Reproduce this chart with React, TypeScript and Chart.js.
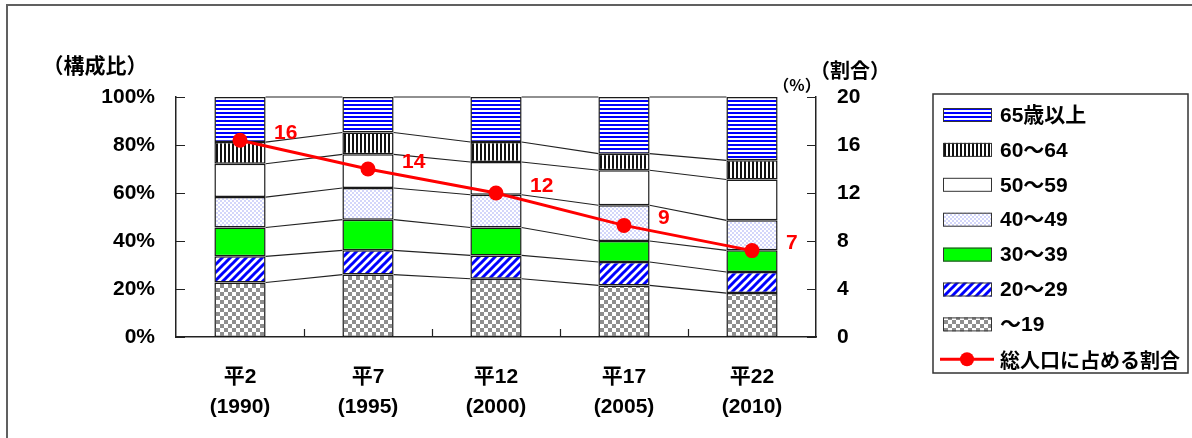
import React, { useEffect, useRef } from 'react';
import { Chart, registerables } from 'chart.js';

Chart.register(...registerables);

// ---- data ----
const categories: string[][] = [
  ['平2', '(1990)'],
  ['平7', '(1995)'],
  ['平12', '(2000)'],
  ['平17', '(2005)'],
  ['平22', '(2010)'],
];
const seriesLabels = ['～19', '20～29', '30～39', '40～49', '50～59', '60～64', '65歳以上'];
const under19 = [22.7, 26.0, 24.3, 21.5, 18.3];
const age20to29 = [10.9, 10.1, 9.7, 9.75, 8.8];
const age30to39 = [12.0, 12.8, 11.6, 8.75, 9.0];
const age40to49 = [12.7, 13.2, 13.7, 14.9, 12.5];
const age50to59 = [13.9, 14.0, 13.6, 14.6, 17.0];
const age60to64 = [9.0, 9.1, 8.35, 6.9, 8.0];
const age65plus = [18.8, 14.8, 18.75, 23.6, 26.4];
const shareOfTotal = [16.4, 14.0, 12.0, 9.3, 7.2];
const shareLabel = '総人口に占める割合';
const leftTickValues = [0, 20, 40, 60, 80, 100];
const rightTickValues = [0, 4, 8, 12, 16, 20];

const FONT = "'Liberation Sans', 'Noto Sans CJK JP', sans-serif";
const CJK = "'Noto Sans CJK JP', 'Liberation Sans', sans-serif";

function tile(w: number, h: number, draw: (g: CanvasRenderingContext2D) => void): CanvasPattern | string {
  const c = document.createElement('canvas');
  c.width = w;
  c.height = h;
  const g = c.getContext('2d')!;
  g.fillStyle = '#ffffff';
  g.fillRect(0, 0, w, h);
  draw(g);
  return g.createPattern(c, 'repeat') || '#fff';
}

function makePatterns() {
  const grayChecker = tile(8, 8, (g) => {
    g.fillStyle = '#8e8e8e';
    g.fillRect(0, 0, 4, 4);
    g.fillRect(4, 4, 4, 4);
  });
  const diag = tile(8, 8, (g) => {
    g.strokeStyle = '#0000ff';
    g.lineWidth = 3;
    g.beginPath();
    g.moveTo(-2, 10); g.lineTo(10, -2);
    g.moveTo(-2, 2); g.lineTo(2, -2);
    g.moveTo(6, 10); g.lineTo(10, 6);
    g.stroke();
  });
  const lavender = tile(4, 4, (g) => {
    g.fillStyle = '#d3d6fa';
    g.fillRect(0, 0, 2, 2);
    g.fillRect(2, 2, 2, 2);
  });
  const vert = tile(4, 4, (g) => {
    g.fillStyle = '#111111';
    g.fillRect(0, 0, 2, 4);
  });
  const horiz = tile(4, 4, (g) => {
    g.fillStyle = '#0000ff';
    g.fillRect(0, 0, 4, 2);
  });
  return [grayChecker, diag, '#00ff00', lavender, '#ffffff', vert, horiz];
}

const decorPlugin = {
  id: 'decor',
  beforeDatasetsDraw(chart: any) {
    const ctx = chart.ctx as CanvasRenderingContext2D;
    ctx.save();
    ctx.strokeStyle = '#222';
    ctx.lineWidth = 1.1;
    chart.data.datasets.forEach((ds: any, di: number) => {
      if (ds.type !== 'bar') return;
      const els = chart.getDatasetMeta(di).data;
      for (let j = 0; j < els.length - 1; j++) {
        const a = els[j].getProps(['x', 'y', 'width'], true);
        const b = els[j + 1].getProps(['x', 'y', 'width'], true);
        ctx.beginPath();
        ctx.moveTo(a.x + a.width / 2, a.y);
        ctx.lineTo(b.x - b.width / 2, b.y);
        ctx.stroke();
      }
    });
    ctx.restore();
  },
  afterDraw(chart: any) {
    const ctx = chart.ctx as CanvasRenderingContext2D;
    const area = chart.chartArea;
    const xs = chart.scales.x;
    const ys = chart.scales.y;
    const y1 = chart.scales.y1;
    ctx.save();

    // outer frame (left and top)
    ctx.strokeStyle = '#606060';
    ctx.lineWidth = 2;
    ctx.beginPath();
    ctx.moveTo(7, 438);
    ctx.lineTo(7, 5);
    ctx.lineTo(1192, 5);
    ctx.stroke();

    // inner tick marks
    ctx.strokeStyle = '#222';
    ctx.lineWidth = 1.2;
    ctx.beginPath();
    leftTickValues.forEach((v) => {
      const py = Math.round(ys.getPixelForValue(v)) + 0.5;
      ctx.moveTo(area.left, py);
      ctx.lineTo(area.left + 9, py);
    });
    rightTickValues.forEach((v) => {
      const py = Math.round(y1.getPixelForValue(v)) + 0.5;
      ctx.moveTo(area.right, py);
      ctx.lineTo(area.right - 9, py);
    });
    for (let i = 0; i < categories.length - 1; i++) {
      const px = Math.round((xs.getPixelForValue(i) + xs.getPixelForValue(i + 1)) / 2) + 0.5;
      ctx.moveTo(px, area.bottom);
      ctx.lineTo(px, area.bottom - 8);
    }
    ctx.stroke();

    // axis titles
    ctx.fillStyle = '#000';
    ctx.textAlign = 'center';
    ctx.textBaseline = 'middle';
    ctx.font = `bold 21px ${CJK}`;
    ctx.fillText('（構成比）', 95, 65);
    ctx.font = `bold 20px ${CJK}`;
    ctx.fillText('（割合）', 850, 70);
    ctx.font = `bold 16px ${CJK}`;
    ctx.fillText('（%）', 797, 85);

    // line data labels
    const lineIdx = chart.data.datasets.findIndex((d: any) => d.type === 'line');
    if (lineIdx >= 0) {
      const pts = chart.getDatasetMeta(lineIdx).data;
      ctx.fillStyle = '#ff0000';
      ctx.font = `bold 21px ${FONT}`;
      ctx.textAlign = 'left';
      ctx.textBaseline = 'middle';
      pts.forEach((p: any, i: number) => {
        const v = chart.data.datasets[lineIdx].data[i];
        ctx.fillText(String(Math.round(v)), p.x + 34, p.y - 7);
      });
    }

    // legend
    const lx = 933, ly = 94, lw = 255, lh = 279;
    ctx.fillStyle = '#fff';
    ctx.fillRect(lx, ly, lw, lh);
    ctx.strokeStyle = '#333';
    ctx.lineWidth = 1.5;
    ctx.strokeRect(lx, ly, lw, lh);
    const barSets = chart.data.datasets.filter((d: any) => d.type === 'bar').slice().reverse();
    let ry = 115;
    const step = 34.9;
    ctx.font = `bold 21px ${FONT}`;
    ctx.textAlign = 'left';
    ctx.textBaseline = 'middle';
    barSets.forEach((d: any) => {
      ctx.fillStyle = d.backgroundColor;
      ctx.fillRect(943, ry - 7, 49, 14);
      ctx.strokeStyle = '#333';
      ctx.lineWidth = 1;
      ctx.strokeRect(943.5, ry - 7 + 0.5, 48, 13);
      ctx.fillStyle = '#000';
      ctx.fillText(d.label, 1000, ry + 1);
      ry += step;
    });
    if (lineIdx >= 0) {
      const d = chart.data.datasets[lineIdx];
      ctx.strokeStyle = '#ff0000';
      ctx.lineWidth = 3;
      ctx.beginPath();
      ctx.moveTo(940, ry);
      ctx.lineTo(994, ry);
      ctx.stroke();
      ctx.fillStyle = '#ff0000';
      ctx.beginPath();
      ctx.arc(967, ry, 7, 0, Math.PI * 2);
      ctx.fill();
      ctx.fillStyle = '#000';
      ctx.font = `bold 20px ${CJK}`;
      ctx.fillText(d.label, 1000, ry + 1);
    }
    ctx.restore();
  },
};

export default function App() {
  const ref = useRef<HTMLCanvasElement | null>(null);

  useEffect(() => {
    if (!ref.current) return;
    const fills = makePatterns();
    const barData = [under19, age20to29, age30to39, age40to49, age50to59, age60to64, age65plus];
    const barSets = barData.map((arr, i) => ({
      type: 'bar' as const,
      label: seriesLabels[i],
      data: arr,
      backgroundColor: fills[i] as any,
      borderColor: '#1a1a1a',
      borderWidth: 1.5,
      borderSkipped: false,
      yAxisID: 'y',
      order: 1,
      categoryPercentage: 1,
      barPercentage: 0.4,
    }));
    const chart = new Chart(ref.current, {
      type: 'bar',
      data: {
        labels: categories as any,
        datasets: [
          {
            type: 'line' as const,
            label: shareLabel,
            data: shareOfTotal,
            yAxisID: 'y1',
            borderColor: '#ff0000',
            backgroundColor: '#ff0000',
            borderWidth: 3,
            pointRadius: 7.5,
            pointBackgroundColor: '#ff0000',
            pointBorderWidth: 0,
            order: 0,
          } as any,
          ...barSets,
        ],
      },
      options: {
        responsive: false,
        animation: false,
        layout: { padding: { top: 97, right: 316, bottom: 21, left: 0 } },
        plugins: {
          legend: { display: false },
          tooltip: { enabled: false },
        },
        scales: {
          x: {
            stacked: true,
            grid: { display: false, drawTicks: false },
            border: { display: true, color: '#222', width: 1.5 },
            ticks: {
              color: '#000',
              padding: 25,
              font: { family: FONT, size: 21, weight: 'bold', lineHeight: 1.43 },
              maxRotation: 0,
            },
            afterFit: (s: any) => { s.height = 80; },
          },
          y: {
            stacked: true,
            position: 'left',
            min: 0,
            max: 100,
            grid: { display: false, drawTicks: false },
            border: { display: true, color: '#222', width: 1.5 },
            ticks: {
              stepSize: 20,
              color: '#000',
              padding: 21,
              font: { family: FONT, size: 21, weight: 'bold' },
              callback: (v: any) => `${v}%`,
            },
            afterFit: (s: any) => { s.width = 176; },
          },
          y1: {
            position: 'right',
            min: 0,
            max: 20,
            grid: { display: false, drawTicks: false },
            border: { display: true, color: '#222', width: 1.5 },
            ticks: {
              stepSize: 4,
              color: '#000',
              padding: 21,
              font: { family: FONT, size: 21, weight: 'bold' },
            },
            afterFit: (s: any) => { s.width = 60; },
          },
        },
      },
      plugins: [decorPlugin],
    });
    return () => chart.destroy();
  }, []);

  return (
    <div style={{ position: 'absolute', left: 0, top: 0, width: 1192, height: 438, background: '#fff' }}>
      <canvas ref={ref} width={1192} height={438} style={{ display: 'block' }} />
    </div>
  );
}
